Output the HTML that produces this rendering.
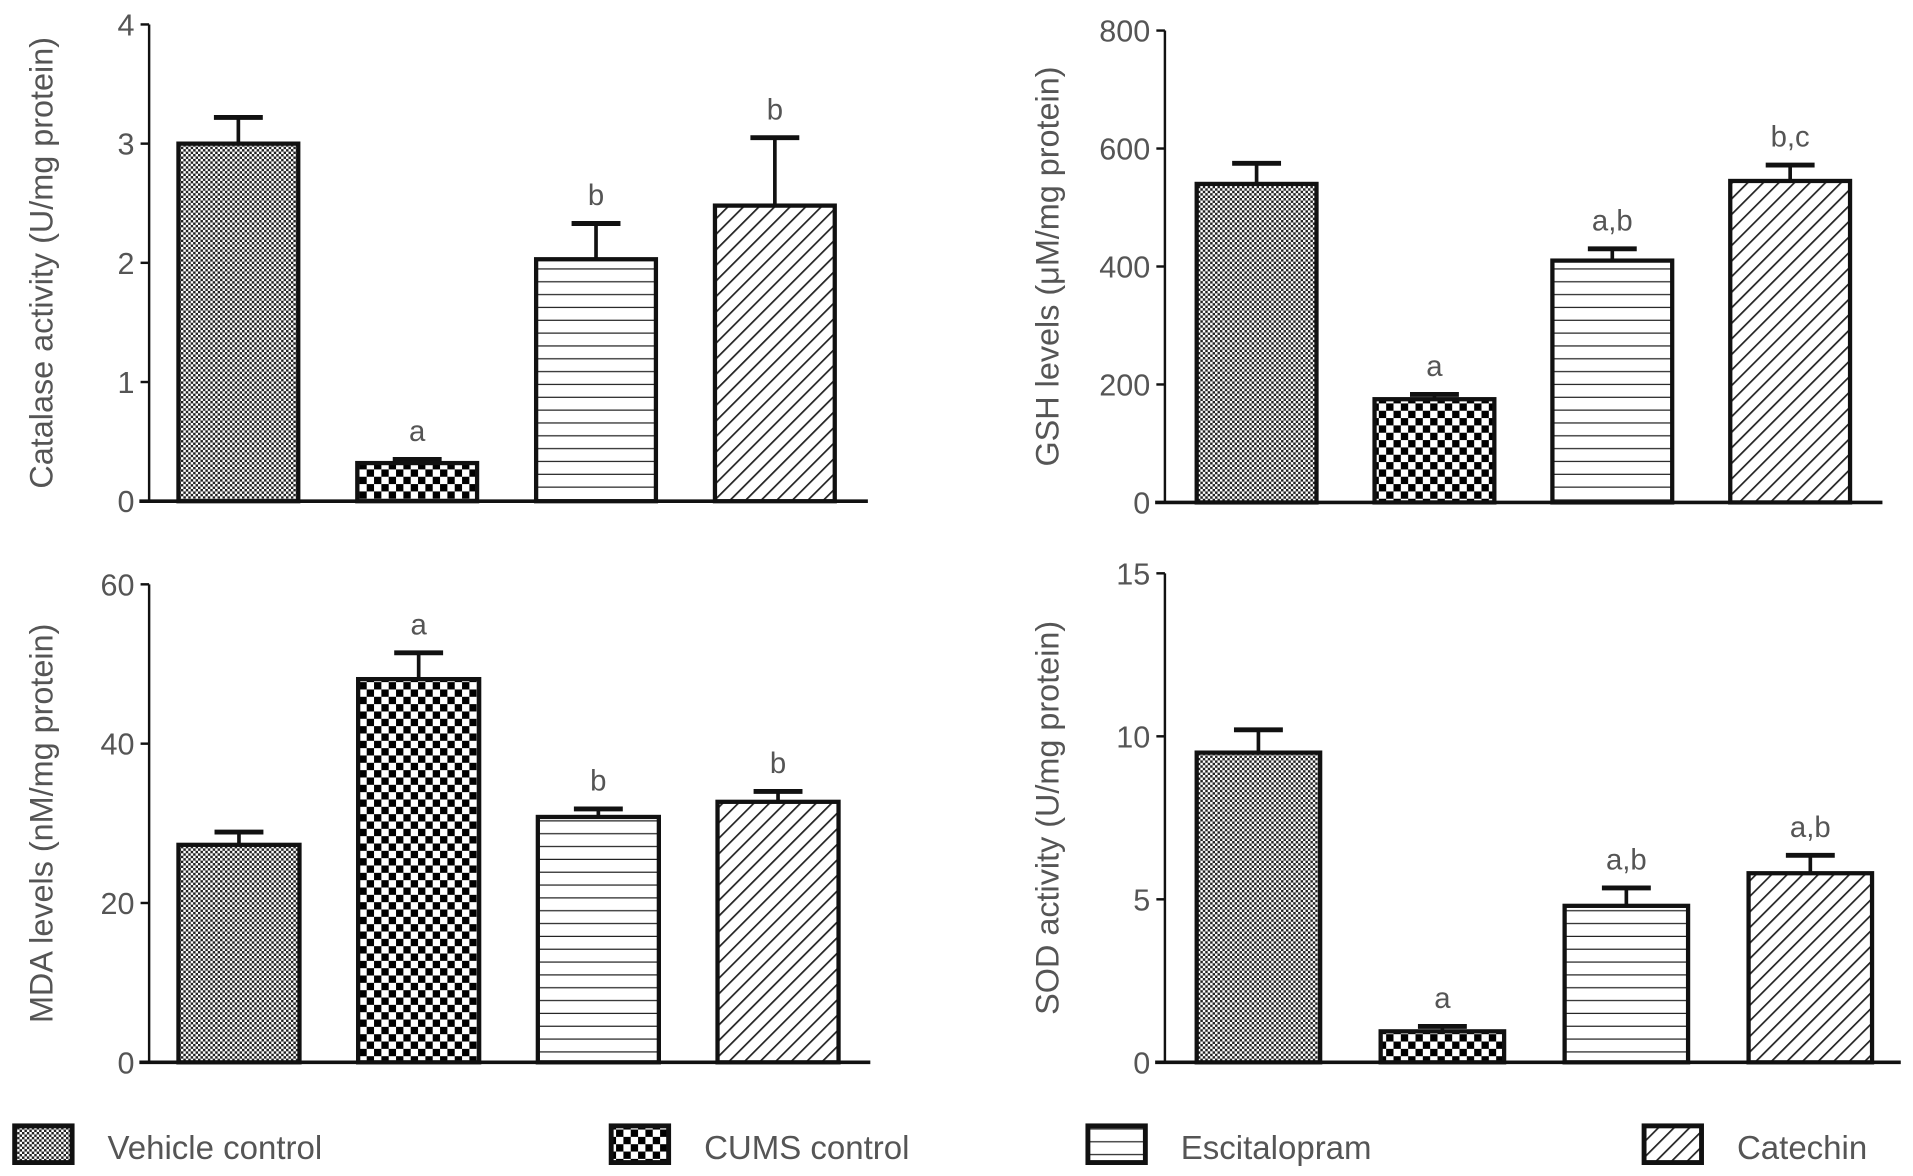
<!DOCTYPE html>
<html><head><meta charset="utf-8">
<style>
html,body{margin:0;padding:0;background:#fff;}
svg{display:block;font-family:"Liberation Sans",sans-serif;}
text{fill:#555;}
</style></head>
<body>
<svg id="fig" width="1913" height="1176" viewBox="0 0 1565 962" preserveAspectRatio="none" xmlns="http://www.w3.org/2000/svg">
<defs>
<pattern id="p0" width="4" height="4" patternUnits="userSpaceOnUse"><rect width="4" height="4" fill="#fff"/><rect width="2" height="2" fill="#222"/><rect x="2" y="2" width="2" height="2" fill="#222"/></pattern>
<pattern id="p1" width="12" height="12" patternUnits="userSpaceOnUse"><rect width="12" height="12" fill="#fff"/><rect width="6" height="6" fill="#000"/><rect x="6" y="6" width="6" height="6" fill="#000"/></pattern>
<pattern id="p2" width="10" height="10.5" patternUnits="userSpaceOnUse"><rect width="10" height="10.5" fill="#fff"/><rect y="9.5" width="10" height="1.2" fill="#222"/></pattern>
<pattern id="p3" width="9" height="9" patternUnits="userSpaceOnUse" patternTransform="rotate(45)"><rect width="9" height="9" fill="#fff"/><rect width="1.4" height="9" fill="#222"/></pattern>
</defs>
<g id="root"></g>
</svg>
<script>
const groups = ["Vehicle control","CUMS control","Escitalopram","Catechin"];
const catalaseVals = [3.0, 0.32, 2.03, 2.48];
const catalaseErr = [0.22, 0.03, 0.30, 0.57];
const catalaseSig = ["", "a", "b", "b"];
const catalaseTicks = [0,1,2,3,4];
const gshVals = [540, 175, 410, 545];
const gshErr = [35, 8, 20, 27];
const gshSig = ["", "a", "a,b", "b,c"];
const gshTicks = [0,200,400,600,800];
const mdaVals = [27.3, 48.1, 30.8, 32.7];
const mdaErr = [1.6, 3.3, 1.0, 1.3];
const mdaSig = ["", "a", "b", "b"];
const mdaTicks = [0,20,40,60];
const sodVals = [9.5, 0.95, 4.8, 5.8];
const sodErr = [0.7, 0.15, 0.55, 0.55];
const sodSig = ["", "a", "a,b", "a,b"];
const sodTicks = [0,5,10,15];

const NS="http://www.w3.org/2000/svg";
const root=document.getElementById('root');
function mk(tag,attrs,parent){const e=document.createElementNS(NS,tag);for(const k in attrs)e.setAttribute(k,attrs[k]);(parent||root).appendChild(e);return e;}

function panel(key,label,vals,errs,sigs,ticks,cfg){
  const g=mk('g',{});
  
  
  const max=ticks[ticks.length-1];
  const y=v=>cfg.y0-(v/max)*(cfg.y0-cfg.yTop);
  const bx=i=>cfg.x0+i*cfg.step;
  const ax=mk('line',{x1:cfg.ax,y1:y(max),x2:cfg.ax,y2:cfg.y0,stroke:'#111','stroke-width':2},g);
  
  
  const xa=mk('line',{x1:cfg.ax-8,y1:cfg.y0,x2:cfg.xEnd,y2:cfg.y0,stroke:'#111','stroke-width':3},g);
  
  
  ticks.forEach(t=>{
    mk('line',{x1:cfg.ax-7,y1:y(t),x2:cfg.ax,y2:y(t),stroke:'#111','stroke-width':2},g);
    const tl=mk('text',{x:cfg.ax-12,y:y(t)+9,'text-anchor':'end','font-size':25},g);
    tl.textContent=t;
    
    
  });
  const yl=mk('text',{x:0,y:0,'text-anchor':'middle','font-size':26.5,transform:`translate(${cfg.lx},${(cfg.y0+y(max))/2}) rotate(-90)`},g);
  yl.textContent=label;
  
  
  vals.forEach((v,i)=>{
    const x=bx(i), top=y(v), et=y(v+errs[i]), cx=x+cfg.w/2;
    mk('line',{x1:cx,y1:et,x2:cx,y2:top,stroke:'#111','stroke-width':3},g);
    mk('line',{x1:cx-20,y1:et,x2:cx+20,y2:et,stroke:'#111','stroke-width':4},g);
    const b=mk('rect',{x:x,y:top,width:cfg.w,height:cfg.y0-top,fill:`url(#p${i})`,stroke:'#111','stroke-width':3.5},g);
    
    
    if(sigs[i]){
      const s=mk('text',{x:cx,y:et-15,'text-anchor':'middle','font-size':24},g);
      s.textContent=sigs[i];
      
      
    }
  });
}
panel('catalase','Catalase activity (U/mg protein)',catalaseVals,catalaseErr,catalaseSig,catalaseTicks,{ax:122,y0:410,yTop:20,xEnd:710,x0:146,step:146.3,w:98,lx:43});
panel('gsh','GSH levels (\u03BCM/mg protein)',gshVals,gshErr,gshSig,gshTicks,{ax:953,y0:411,yTop:25,xEnd:1540,x0:979,step:145.5,w:98,lx:866});
panel('mda','MDA levels (nM/mg protein)',mdaVals,mdaErr,mdaSig,mdaTicks,{ax:122,y0:869,yTop:478,xEnd:712,x0:146,step:147,w:99,lx:43});
panel('sod','SOD activity (U/mg protein)',sodVals,sodErr,sodSig,sodTicks,{ax:953,y0:869,yTop:469,xEnd:1555,x0:979,step:150.5,w:101,lx:866});

const legX=[12,500,890,1345];
groups.forEach((name,i)=>{
  const r=mk('rect',{x:legX[i],y:921,width:47,height:30,fill:`url(#p${i})`,stroke:'#111','stroke-width':4});
  
  
  const t=mk('text',{x:legX[i]+76,y:948,'font-size':27});
  t.textContent=name;
  
  
});
</script>
</body></html>
